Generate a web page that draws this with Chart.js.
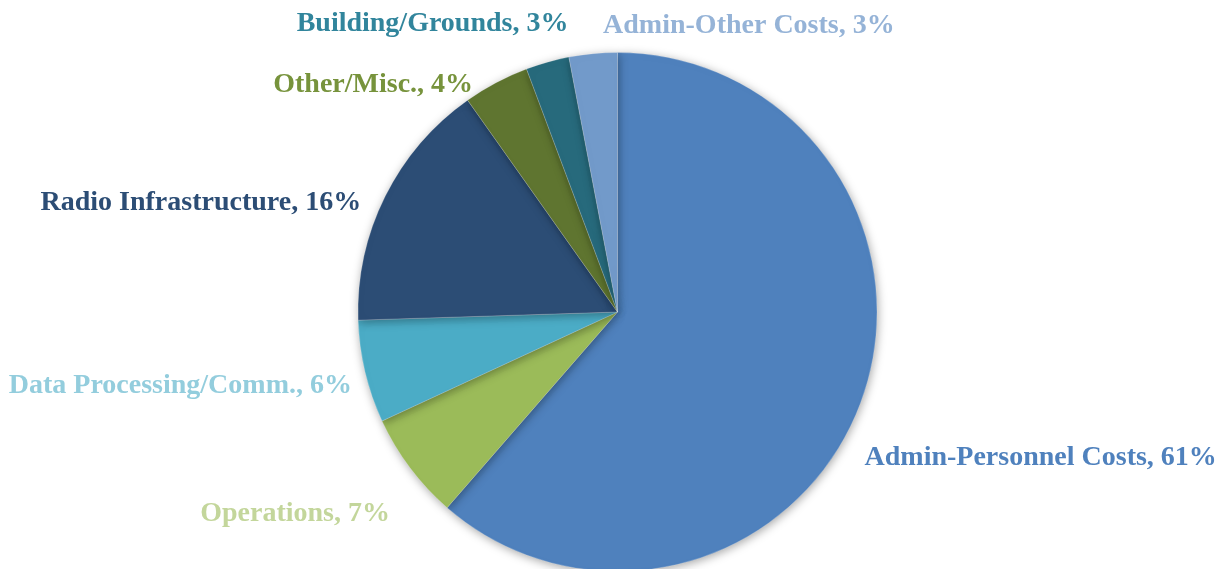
<!DOCTYPE html>
<html>
<head>
<meta charset="utf-8">
<script src="https://cdn.jsdelivr.net/npm/chart.js@4"></script>
<style>
  html, body { margin: 0; padding: 0; background: #fff; overflow: hidden; }
  #wrap { position: relative; width: 1225px; height: 575px; }
</style>
</head>
<body>
<div id="wrap"><canvas id="budgetChart"></canvas></div>
<script>
// budget shares, clockwise from 12 o'clock
const categories = [
    "Admin-Personnel Costs",
    "Operations",
    "Data Processing/Comm.",
    "Radio Infrastructure",
    "Other/Misc.",
    "Building/Grounds",
    "Admin-Other Costs"
];
const shares = [61.4, 6.7, 6.4, 15.7, 4.1, 2.7, 3.0];
const sliceColors = ["#4F81BD", "#9BBB59", "#4BACC6", "#2C4D75", "#5F7530", "#276A7C", "#729ACA"];
const labelColors = ["#4F81BD", "#C3D69B", "#93CDDD", "#2C4D75", "#77933C", "#31859C", "#95B3D7"];

// label placement relative to the outer middle of each slice
const labelAlign = ["left", "right", "right", "right", "right", "right", "left"];
const labelShift = [[4, 62], [-20, 53], [-13, 21], [-24, 14], [-23, 9], [21, -31], [10, -21]];

const LABEL_FONT = 'bold 28px "Liberation Serif", "Times New Roman", serif';

const pieShadow = {
    id: 'pieShadow',
    beforeDatasetDraw(chart) {
        const ctx = chart.ctx;
        ctx.save();
        ctx.shadowColor = 'rgba(0,0,0,0.35)';
        ctx.shadowBlur = 10;
        ctx.shadowOffsetX = 1;
        ctx.shadowOffsetY = 2;
    },
    afterDatasetDraw(chart) {
        chart.ctx.restore();
    }
};

const outsideLabels = {
    id: 'outsideLabels',
    afterDatasetsDraw(chart) {
        const ctx = chart.ctx;
        const meta = chart.getDatasetMeta(0);
        const total = shares.reduce((a, b) => a + b, 0);
        ctx.save();
        ctx.font = LABEL_FONT;
        ctx.textBaseline = 'alphabetic';
        meta.data.forEach((arc, i) => {
            const p = arc.getProps(['x', 'y', 'startAngle', 'endAngle', 'outerRadius'], true);
            const mid = (p.startAngle + p.endAngle) / 2;
            const x = p.x + Math.cos(mid) * p.outerRadius + labelShift[i][0];
            const y = p.y + Math.sin(mid) * p.outerRadius + labelShift[i][1];
            const pct = Math.round(shares[i] / total * 100);
            ctx.fillStyle = labelColors[i];
            ctx.textAlign = labelAlign[i];
            ctx.fillText(`${categories[i]}, ${pct}%`, x, y);
        });
        ctx.restore();
    }
};

new Chart(document.getElementById('budgetChart'), {
    type: 'pie',
    data: {
        labels: categories,
        datasets: [{
            data: shares,
            backgroundColor: sliceColors,
            borderColor: 'rgba(255,255,255,0.2)',
            borderWidth: 1
        }]
    },
    options: {
        responsive: true,
        maintainAspectRatio: false,
        animation: false,
        layout: { padding: { top: 52, bottom: 3, left: 357, right: 347 } },
        plugins: {
            legend: { display: false },
            tooltip: { enabled: false }
        }
    },
    plugins: [pieShadow, outsideLabels]
});
</script>
</body>
</html>
